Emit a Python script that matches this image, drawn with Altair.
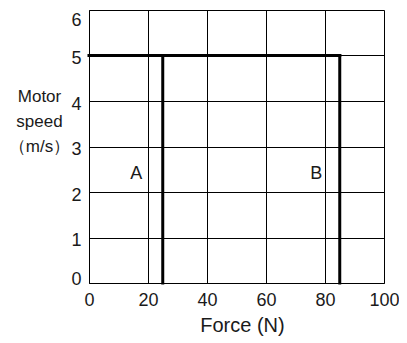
import altair as alt
import pandas as pd

# Thick boundary segments (x, y) -> (x2, y2)
seg_x = [0, 25, 85]
seg_x2 = [85, 25, 85]
seg_y = [5, 0, 0]
seg_y2 = [5, 5, 5]

# Region labels
label_text = ["A", "B"]
label_x = [16, 77]
label_y = [2.4, 2.4]

x_ticks = [0, 20, 40, 60, 80, 100]
y_ticks = [0, 1, 2, 3, 4, 5, 6]

FONT = "Liberation Sans"

segs = pd.DataFrame({"x": seg_x, "x2": seg_x2, "y": seg_y, "y2": seg_y2})
labs = pd.DataFrame({"t": label_text, "x": label_x, "y": label_y})

xscale = alt.Scale(domain=[0, 100], nice=False, zero=False)
yscale = alt.Scale(domain=[0, 6], nice=False, zero=False)

xaxis = alt.Axis(
    values=x_ticks, title="Force (N)", grid=True, ticks=False,
    labelPadding=8, labelFlush=False, labelFontSize=18, labelFont=FONT,
    labelColor="#1a1a1a", titleFontSize=20, titleFont=FONT, titleFontWeight="normal",
    titleColor="#1a1a1a", titlePadding=6, titleX=153, titleAlign="center",
    domainColor="black", gridColor="black", gridWidth=1, domainWidth=1,
)
yaxis = alt.Axis(
    values=y_ticks, title=["Motor", "speed", "（m/s）"], grid=True, ticks=False,
    labelPadding=8, labelFlush=True, labelFlushOffset=2, labelOffset=3,
    labelFontSize=18, labelFont=FONT,
    labelColor="#1a1a1a", titleFontSize=17, titleFont=FONT, titleFontWeight="normal",
    titleColor="#1a1a1a", titleAngle=0, titleAlign="center", titleBaseline="middle",
    titleX=-50, titleY=86, titleLineHeight=25,
    domainColor="black", gridColor="black", gridWidth=1, domainWidth=1,
)

lines = alt.Chart(segs).mark_rule(color="black", strokeWidth=3, strokeCap="square").encode(
    x=alt.X("x:Q", scale=xscale, axis=xaxis),
    x2="x2:Q",
    y=alt.Y("y:Q", scale=yscale, axis=yaxis),
    y2="y2:Q",
)

text = alt.Chart(labs).mark_text(
    fontSize=18, font=FONT, color="#1a1a1a", align="center", baseline="middle"
).encode(
    x=alt.X("x:Q", scale=xscale),
    y=alt.Y("y:Q", scale=yscale),
    text="t:N",
)

chart = (
    alt.layer(lines, text)
    .properties(
        width=295, height=273,
        autosize=alt.AutoSizeParams(type="none"),
        padding={"left": 81, "top": 2, "right": 15, "bottom": 60},
    )
    .configure_view(stroke="black", strokeWidth=1)
    .configure(background="white")
)

chart.save("out.html", embed_options={"renderer": "svg", "actions": False})
